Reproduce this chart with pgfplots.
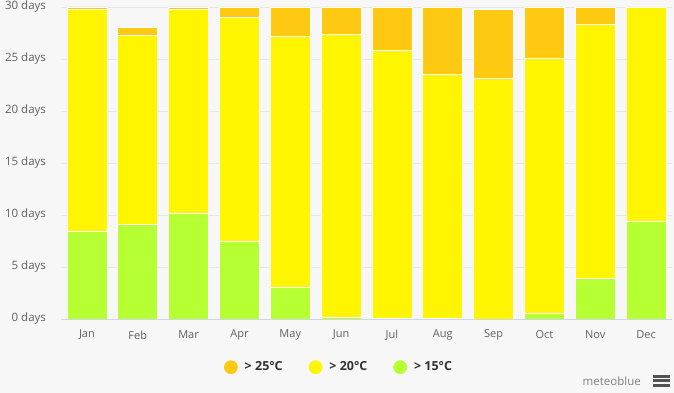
\documentclass[border=0pt]{standalone}
\usepackage{pgfplots}
\pgfplotsset{compat=1.18}
\usepackage{fontspec}
\setmainfont{Open Sans}
\definecolor{bg}{HTML}{F7F7F7}
\definecolor{gridc}{HTML}{E6E6E6}
\definecolor{axisc}{HTML}{CCD6EB}
\definecolor{labelc}{HTML}{606060}
\definecolor{textc}{HTML}{333333}
\definecolor{c25}{HTML}{FFC912}
\definecolor{c20}{HTML}{FFF500}
\definecolor{c15}{HTML}{B5FF33}
\begin{document}
\begin{tikzpicture}[x=1pt,y=1pt]
\fill[bg] (-61.5,-74) rectangle (612.5,319);
\useasboundingbox (-61.5,-74) rectangle (612.5,319);
\begin{axis}[
  anchor=south west,
  scale only axis, width=610pt, height=312pt,
  xmin=-0.5, xmax=11.5, ymin=0, ymax=30,
  ybar stacked, bar width=40pt,
  axis x line*=bottom, axis y line*=left,
  x axis line style={draw=axisc, line width=0.8pt, -},
  y axis line style={draw=none},
  major tick length=0pt,
  ymajorgrids, grid style={draw=gridc, line width=0.6pt},
  xtick={0,...,11},
  xticklabels={Jan,Feb,Mar,Apr,May,Jun,Jul,Aug,Sep,Oct,Nov,Dec},
  ytick={0,5,...,30},
  yticklabels={0 days,5 days,10 days,15 days,20 days,25 days,30 days},
  yticklabel style={font=\fontsize{11.5}{13}\selectfont, text=labelc, anchor=east, xshift=-12pt},
  xticklabel style={font=\fontsize{11}{13}\selectfont, text=labelc, anchor=center, yshift=-16pt},
  legend style={at={(0.455,-0.1545)}, anchor=center, draw=none, fill=none,
    legend columns=3, font=\bfseries\fontsize{12.5}{14}\selectfont, text=textc,
    /tikz/every even column/.append style={column sep=24pt},
    /tikz/every odd column/.append style={column sep=5pt}},
  reverse legend,
  every axis plot/.append style={draw=white, line width=0.7pt},
]
\addplot[fill=c15, legend image code/.code={\fill[c15] (0pt,0pt) circle (6.5pt);}] coordinates {
 (0,8.4) (1,9.1) (2,10.2) (3,7.5) (4,3.0) (5,0.15) (6,0.05) (7,0.05) (8,0) (9,0.55) (10,3.9) (11,9.4)};
\addlegendentry{> 15°C}
\addplot[fill=c20, legend image code/.code={\fill[c20] (0pt,0pt) circle (6.5pt);}] coordinates {
 (0,21.4) (1,18.2) (2,19.6) (3,21.5) (4,24.2) (5,27.25) (6,25.75) (7,23.45) (8,23.1) (9,24.55) (10,24.4) (11,20.6)};
\addlegendentry{> 20°C}
\addplot[fill=c25, legend image code/.code={\fill[c25] (0pt,0pt) circle (6.5pt);}] coordinates {
 (0,0.2) (1,0.7) (2,0.2) (3,1.0) (4,2.8) (5,2.6) (6,4.2) (7,6.5) (8,6.7) (9,4.9) (10,1.7) (11,0)};
\addlegendentry{> 25°C}
\end{axis}
\node[text=black!50, font=\fontsize{11.5}{14}\selectfont, anchor=east, inner sep=0pt] at (641-61.5,-62) {meteoblue};
\fill[black!68] (591,-56) rectangle (608.5,-59);
\fill[black!68] (591,-60.5) rectangle (608.5,-63.5);
\fill[black!68] (591,-65) rectangle (608.5,-68);
\end{tikzpicture}
\end{document}
